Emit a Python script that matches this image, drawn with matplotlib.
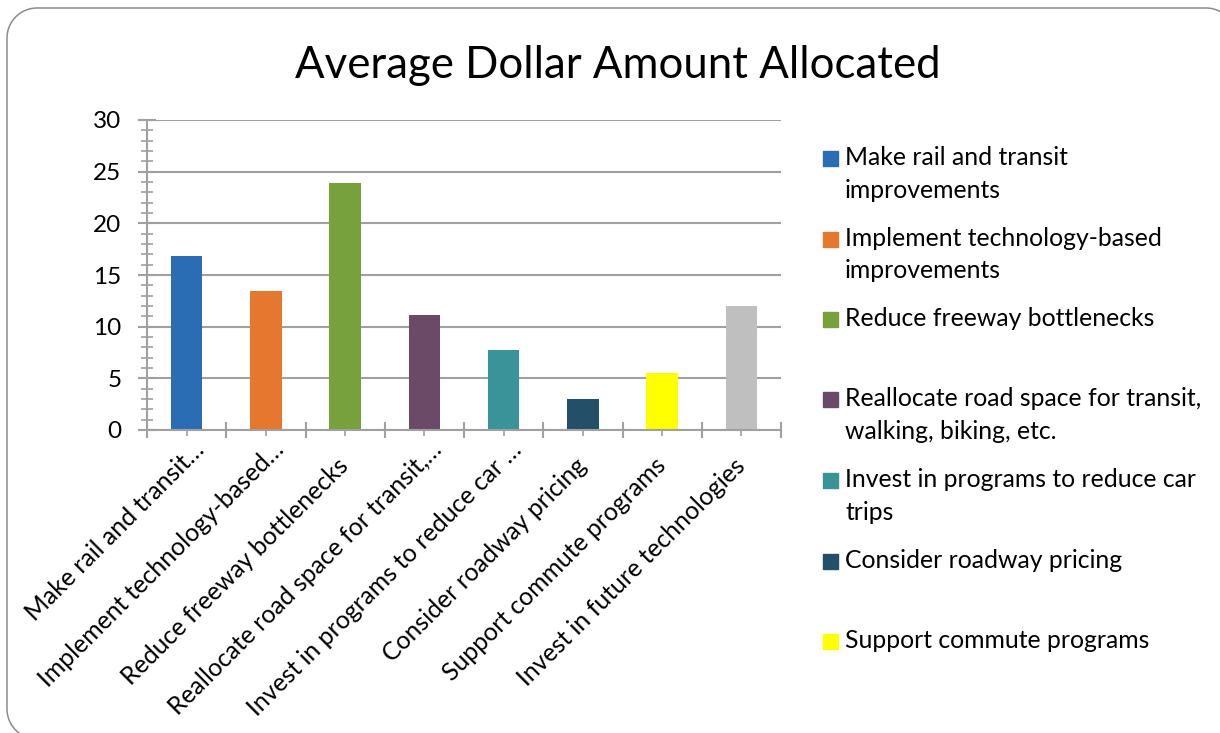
import numpy as np
import matplotlib.pyplot as plt
from matplotlib.patches import PathPatch, Rectangle
from matplotlib.path import Path
from matplotlib.ticker import MultipleLocator, FixedLocator, NullFormatter
from matplotlib.transforms import ScaledTranslation

plt.rcParams['font.family'] = ['Lato', 'DejaVu Sans']

# full option names, axis labels (cut short) and legend text (wrapped)
categories = [
    "Make rail and transit improvements",
    "Implement technology-based improvements",
    "Reduce freeway bottlenecks",
    "Reallocate road space for transit, walking, biking, etc.",
    "Invest in programs to reduce car trips",
    "Consider roadway pricing",
    "Support commute programs",
    "Invest in future technologies",
]
tick_labels = [
    "Make rail and transit…",
    "Implement technology-based…",
    "Reduce freeway bottlenecks",
    "Reallocate road space for transit,…",
    "Invest in programs to reduce car …",
    "Consider roadway pricing",
    "Support commute programs",
    "Invest in future technologies",
]
legend_labels = [
    "Make rail and transit\nimprovements",
    "Implement technology-based\nimprovements",
    "Reduce freeway bottlenecks",
    "Reallocate road space for transit,\nwalking, biking, etc.",
    "Invest in programs to reduce car\ntrips",
    "Consider roadway pricing",
    "Support commute programs",
    "Invest in future technologies",
]
values = [16.8, 13.5, 23.9, 11.1, 7.7, 3.0, 5.5, 12.0]
colors = ["#2a6db4", "#e6772f", "#76a13d", "#6a4a67", "#3a9399",
          "#234f68", "#ffff00", "#bfbfbf"]

W, H = 1220, 733
fig = plt.figure(figsize=(W / 100, H / 100), dpi=100)

def fx(px):
    return px / W

def fy(px):
    return 1 - px / H

# rounded frame around the whole chart, built in pixel units (y down)
def rounded_frame(x0, y0, x1, y1, r):
    pts = []
    for cx, cy, a0 in [(x1 - r, y0 + r, -90), (x1 - r, y1 - r, 0),
                       (x0 + r, y1 - r, 90), (x0 + r, y0 + r, 180)]:
        t = np.radians(np.linspace(a0, a0 + 90, 20))
        pts += [(cx + r * np.cos(a), cy + r * np.sin(a)) for a in t]
    pts.append(pts[0])
    return Path([(fx(px), fy(py)) for px, py in pts])

fig.add_artist(PathPatch(rounded_frame(7, 8, 1236, 739, 30),
                         transform=fig.transFigure, fill=False,
                         edgecolor="#8c8c8c", linewidth=1.1))

ax = fig.add_axes([fx(147), fy(430), fx(781) - fx(147), fy(120) - fy(430)])
x = list(range(len(values)))
ax.bar(x, values, width=0.4, color=colors, zorder=2)

ax.set_xlim(-0.5, len(values) - 0.5)
ax.set_ylim(0, 30)
ax.yaxis.set_major_locator(MultipleLocator(5))
ax.yaxis.set_minor_locator(MultipleLocator(1))
ax.xaxis.set_major_locator(FixedLocator([i - 0.5 for i in range(len(values) + 1)]))
ax.xaxis.set_minor_locator(FixedLocator(x))
ax.xaxis.set_major_formatter(NullFormatter())

grey = "#a0a0a0"
ax.grid(axis="y", which="major", color=grey, linewidth=1.5, zorder=0)
ax.set_axisbelow(True)
for side in ["top", "right"]:
    ax.spines[side].set_visible(False)
for side in ["left", "bottom"]:
    ax.spines[side].set_color(grey)
    ax.spines[side].set_linewidth(1.5)

ax.tick_params(axis="y", which="major", direction="inout", length=13, width=1.5,
               color=grey, labelsize=17.5, pad=12)
ax.tick_params(axis="y", which="minor", direction="inout", length=8.5, width=1.2,
               color=grey)
ax.tick_params(axis="x", which="major", direction="inout", length=12, width=1.5,
               color=grey)
ax.tick_params(axis="x", which="minor", direction="inout", length=8, width=1.2,
               color=grey)

# slanted category labels; the shortened ones sit further up the slant
for i, lab in enumerate(tick_labels):
    if lab.endswith("…"):
        dx, dy = 14, -16
    else:
        dx, dy = 0, -32
    trans = ax.get_xaxis_transform() + ScaledTranslation(dx / 100, dy / 100,
                                                         fig.dpi_scale_trans)
    ax.text(i, 0, lab, rotation=45, rotation_mode="anchor", ha="right",
            va="center", transform=trans, fontsize=17.8)

fig.text(fx(618), fy(78), "Average Dollar Amount Allocated", ha="center",
         va="baseline", fontsize=31.5)

# legend: only the first seven entries fit in the frame
for i, lab in enumerate(legend_labels[:7]):
    top = 151 + i * 80.5
    fig.add_artist(Rectangle((fx(823), fy(top + 15)), fx(15), 15 / H,
                             transform=fig.transFigure, color=colors[i]))
    for j, line in enumerate(lab.split("\n")):
        fig.text(fx(845), fy(165 + i * 80.5 + j * 32.5), line,
                 va="baseline", fontsize=17.8)

fig.savefig("out.png", dpi=100)
